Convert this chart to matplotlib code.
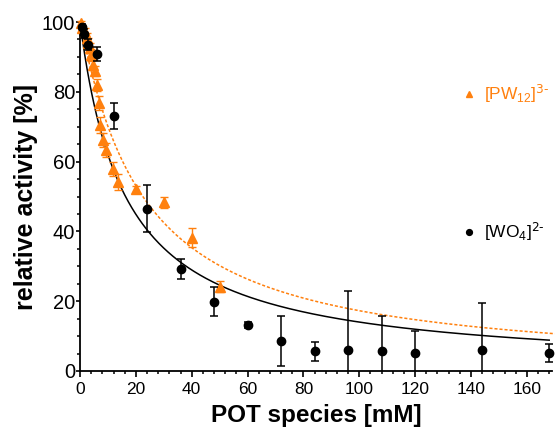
import numpy as np
import matplotlib
matplotlib.use("Agg")
import matplotlib.pyplot as plt
from matplotlib.ticker import MultipleLocator

plt.rcParams['font.family'] = ['Liberation Sans', 'DejaVu Sans']
plt.rcParams['mathtext.default'] = 'regular'

orange = '#FF800E'

# [WO4]2- (black circles)
wo4_x = [0.75, 1.5, 3, 6, 12, 24, 36, 48, 60, 72, 84, 96, 108, 120, 144, 168]
wo4_y = [98.5, 96.7, 93.5, 90.7, 73, 46.5, 29.2, 19.9, 13.2, 8.6, 5.7, 5.9, 5.8, 5.3, 5.9, 5.1]
wo4_err = [1.0, 1.2, 1.5, 2.0, 3.8, 6.8, 2.8, 4.1, 0.8, 7.3, 2.7, 17.0, 10.0, 6.2, 13.6, 2.5]

# [PW12]3- (orange triangles)
pw_x = [0.3, 0.8, 1.8, 2.4, 3.0, 3.6, 4.0, 4.8, 5.4, 6.0, 6.8, 7.2, 8.1, 9.3, 11.7, 13.7, 20, 30, 40, 50]
pw_y = [99.6, 98.2, 97.2, 95.3, 93.9, 92.5, 90.5, 87.7, 86.0, 82.0, 76.7, 70.5, 66.2, 63.3, 58.0, 54.2, 52.1, 48.3, 38.2, 24.2]
pw_err = [0.8, 1.0, 1.2, 1.5, 1.5, 1.5, 1.8, 1.5, 1.5, 1.8, 2.0, 2.2, 2.0, 2.0, 2.0, 2.2, 1.0, 1.7, 2.7, 1.7]

# fitted dose-response parameters (IC50 in mM, Hill slope)
wo4_ic50, wo4_hill = 16.3, 1.0
pw_ic50, pw_hill = 22.5, 1.05

fig = plt.figure(figsize=(5.55, 4.28), dpi=100)
ax = fig.add_axes([80 / 555, 57 / 428, 472 / 555, 349 / 428])

xc = np.linspace(0, 168, 400)
ax.plot(xc, 100 / (1 + (xc / wo4_ic50) ** wo4_hill), color='black', lw=1.1, zorder=2)
xo = np.linspace(0, 170, 400)
ax.plot(xo, 100 / (1 + (xo / pw_ic50) ** pw_hill), color=orange, lw=1.1,
        ls=(0, (2, 1.3)), zorder=2, clip_on=False)

pw = ax.errorbar(pw_x, pw_y, yerr=pw_err, fmt='^', color=orange, ms=6.5,
                 capsize=3, elinewidth=1.0, capthick=1.0, clip_on=False, zorder=3)
wo = ax.errorbar(wo4_x, wo4_y, yerr=wo4_err, fmt='o', color='black', ms=6,
                 capsize=3, elinewidth=1.1, capthick=1.1, clip_on=False, zorder=4)
# error bars that run below zero are cut at the x axis
for cap in wo[1]:
    cap.set_clip_on(True)
for bar in wo[2]:
    bar.set_clip_on(True)

ax.set_xlim(0, 169)
ax.set_ylim(0, 100)
ax.xaxis.set_major_locator(MultipleLocator(20))
ax.xaxis.set_minor_locator(MultipleLocator(4))
ax.yaxis.set_major_locator(MultipleLocator(20))
ax.yaxis.set_minor_locator(MultipleLocator(5))

for s in ['top', 'right']:
    ax.spines[s].set_visible(False)
for s in ['left', 'bottom']:
    ax.spines[s].set_linewidth(1.3)

ax.tick_params(axis='x', which='major', direction='out', length=4.3, width=1.2,
               labelsize=12.5, pad=3.5)
ax.tick_params(axis='x', which='minor', direction='out', length=2.5, width=1.1)
ax.tick_params(axis='y', which='major', direction='out', length=3, width=1.2,
               labelsize=14.5, pad=0.5)
ax.tick_params(axis='y', which='minor', direction='out', length=2, width=1.1)

ax.set_xlabel('POT species [mM]', fontsize=17.5, fontweight='bold', labelpad=5)
ax.set_ylabel('relative activity [%]', fontsize=18, fontweight='bold', labelpad=3)

leg1 = ax.legend([pw[0]], [r'[PW$_{12}$]$^{\text{3-}}$'], loc='center left',
                 bbox_to_anchor=(0.772, 0.795), frameon=False, fontsize=12.5,
                 handlelength=1.0, handletextpad=0.4, markerscale=0.7,
                 labelcolor=orange)
ax.add_artist(leg1)
ax.legend([wo[0]], [r'[WO$_4$]$^{\text{2-}}$'], loc='center left',
          bbox_to_anchor=(0.772, 0.40), frameon=False, fontsize=12.5,
          handlelength=1.0, handletextpad=0.4, markerscale=0.7)

fig.savefig('out.png', dpi=100)
